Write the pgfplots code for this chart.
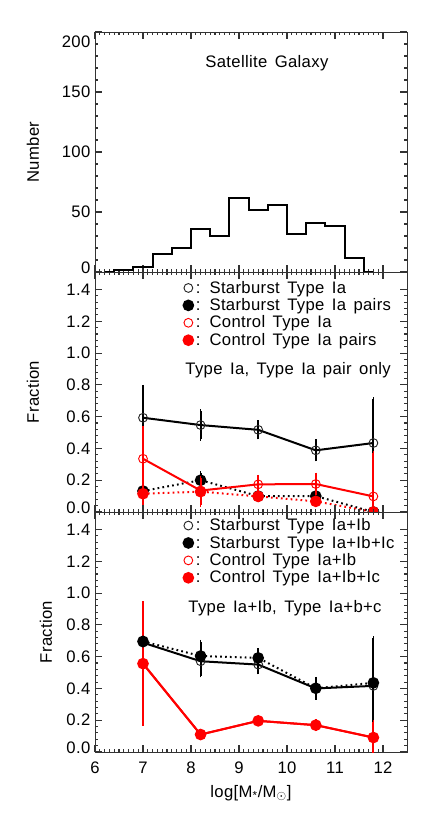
\documentclass[border=0pt]{standalone}
\usepackage{fontspec}
\setmainfont{Liberation Sans}[LetterSpace=2, WordSpace=1.5]
\usepackage{pgfplots}
\pgfplotsset{compat=1.18}

\newcommand{\idl}{\fontsize{12.5}{14}\selectfont}
\newcommand{\up}[2]{\raisebox{#1}[\height][\depth]{#2}}

\pgfplotsset{
  panel/.style={
    width=234pt, height=180pt, scale only axis,
    xmin=6, xmax=12.5,
    xtick={6,7,...,12}, minor x tick num=9,
    minor y tick num=4,
    tick align=inside, xtick pos=both, ytick pos=both,
    major tick length=5pt, minor tick length=2.5pt,
    axis line style={black!80, line width=0.6pt},
    every tick/.append style={black!80, line width=0.8pt},
    tick label style={font=\idl},
    xticklabel style={yshift=-4pt},
    label style={font=\idl},
    /pgf/number format/assume math mode=true,
    legend cell align=left,
  },
  frac/.style={
    ymin=0, ymax=1.51,
    ytick={0,0.2,0.4,0.6,0.8,1.0,1.2,1.4},
    yticklabels={\up{3.5pt}{0.0},0.2,0.4,0.6,0.8,1.0,1.2,1.4},
    ylabel={Fraction},
    legend style={draw=none, fill=none, font=\idl, anchor=north west,
      row sep=-1.5pt, inner sep=0pt,
      /tikz/every even column/.append style={column sep=3pt}},
  },
  ptlegend/.style={legend image code/.code={%
    \draw[##1] plot[only marks] coordinates {(0.15cm,0cm)};}},
  ebar/.style={error bars/y dir=both, error bars/y explicit,
    error bars/error bar style={line width=1.4pt, solid},
    error bars/error mark options={line width=1.2pt, mark size=1.4pt, solid}},
  openblk/.style={black, line width=1.5pt, mark=o, mark size=3.3pt,
    mark options={solid, line width=0.7pt, black!85}, ptlegend, ebar},
  fillblk/.style={black, line width=1.5pt, dash pattern=on 1.3pt off 2.4pt,
    mark=*, mark size=3.6pt, mark options={solid}, ptlegend, ebar},
  openred/.style={red, line width=1.5pt, mark=o, mark size=3.3pt,
    mark options={solid, line width=0.7pt}, ptlegend, ebar},
  fillred/.style={red, line width=1.5pt, dash pattern=on 1.3pt off 2.4pt,
    mark=*, mark size=3.6pt, mark options={solid}, ptlegend, ebar},
  fillredsolid/.style={red, line width=1.5pt,
    mark=*, mark size=3.6pt, mark options={solid}, ptlegend, ebar},
}

\begin{document}
\begin{tikzpicture}

% ---- top: histogram
\begin{axis}[panel, name=top,
  ymin=0, ymax=200, ytick={0,50,100,150,200},
  yticklabels={\up{3pt}{0},50,100,150,\up{-7.5pt}{200}},
  xticklabels={},
  ylabel={Number},
  ylabel style={at={(axis description cs:-0.199,0.5)}, anchor=center},
]
\addplot[const plot mark mid, line width=1.5pt, black] coordinates {
  (6.2,0) (6.6,2) (7.0,4) (7.4,15) (7.8,20) (8.2,36) (8.6,30) (9.0,62)
  (9.4,52) (9.8,56) (10.2,32) (10.6,41) (11.0,38) (11.4,12) (11.8,0)
};
\node[font=\idl] at (axis description cs:0.551,0.870) {Satellite Galaxy};
\end{axis}

% ---- middle: Type Ia
\begin{axis}[panel, frac, name=mid,
  at={(top.south west)}, anchor=north west,
  xticklabels={},
  axis on top, clip marker paths=true,
  ylabel style={at={(axis description cs:-0.199,0.5)}, anchor=center},
  legend style={at={(axis description cs:0.283,0.975)}},
]
\addplot[openblk] coordinates {
  (7.0,0.593) +- (0,0.195)
  (8.2,0.547) +- (0,0.088)
  (9.4,0.517) +- (0,0.048)
  (10.6,0.388) +- (0,0.058)
  (11.8,0.434) +- (0,0.275)
};
\addlegendentry{: Starburst Type Ia}
\addplot[fillblk] coordinates {
  (7.0,0.132) +- (0,0.08)
  (8.2,0.200) +- (0,0.045)
  (9.4,0.100) +- (0,0.02)
  (10.6,0.100) +- (0,0.02)
  (11.8,0.0) +- (0,0.0)
};
\addlegendentry{: Starburst Type Ia pairs}
\addplot[openred] coordinates {
  (7.0,0.335) +- (0,0.195)
  (8.2,0.135) +- (0,0.07)
  (9.4,0.174) +- (0,0.048)
  (10.6,0.176) +- (0,0.06)
  (11.8,0.098) +- (0,0.273)
};
\addlegendentry{: Control Type Ia}
\addplot[fillred] coordinates {
  (7.0,0.115) +- (0,0.085)
  (8.2,0.128) +- (0,0.085)
  (9.4,0.098) +- (0,0.02)
  (10.6,0.067) +- (0,0.02)
  (11.8,0.0) +- (0,0.0)
};
\addlegendentry{: Control Type Ia pairs}
\node[font=\idl] at (axis description cs:0.619,0.589) {Type Ia, Type Ia pair only};
\end{axis}

% ---- bottom: Type Ia+Ib
\begin{axis}[panel, frac, name=bot,
  at={(mid.south west)}, anchor=north west,
  xlabel={log[M\textsubscript{*}/M\textsubscript{$\odot$}]},
  xlabel style={at={(axis description cs:0.5,-0.171)}, anchor=center},
  ylabel style={at={(axis description cs:-0.157,0.5)}, anchor=center},
  legend style={at={(axis description cs:0.283,0.985)}},
]
\addplot[openblk] coordinates {
  (7.0,0.688) +- (0,0.22)
  (8.2,0.571) +- (0,0.09)
  (9.4,0.550) +- (0,0.05)
  (10.6,0.400) +- (0,0.06)
  (11.8,0.416) +- (0,0.28)
};
\addlegendentry{: Starburst Type Ia+Ib}
\addplot[fillblk] coordinates {
  (7.0,0.696) +- (0,0.22)
  (8.2,0.604) +- (0,0.09)
  (9.4,0.592) +- (0,0.05)
  (10.6,0.401) +- (0,0.06)
  (11.8,0.435) +- (0,0.28)
};
\addlegendentry{: Starburst Type Ia+Ib+Ic}
\addplot[openred] coordinates {
  (7.0,0.556) +- (0,0.38)
  (8.2,0.110) +- (0,0.02)
  (9.4,0.196) +- (0,0.015)
  (10.6,0.169) +- (0,0.025)
  (11.8,0.091) +- (0,0.1)
};
\addlegendentry{: Control Type Ia+Ib}
\addplot[fillredsolid] coordinates {
  (7.0,0.556) +- (0,0.38)
  (8.2,0.110) +- (0,0.02)
  (9.4,0.196) +- (0,0.015)
  (10.6,0.169) +- (0,0.025)
  (11.8,0.091) +- (0,0.1)
};
\addlegendentry{: Control Type Ia+Ib+Ic}
\node[font=\idl] at (axis description cs:0.609,0.60) {Type Ia+Ib, Type Ia+b+c};
\end{axis}

\pgfresetboundingbox
\path[use as bounding box] ([xshift=-71.25pt,yshift=24pt]top.north west)
  rectangle ([xshift=255.75pt,yshift=-588.75pt]top.north west);
\end{tikzpicture}
\end{document}
